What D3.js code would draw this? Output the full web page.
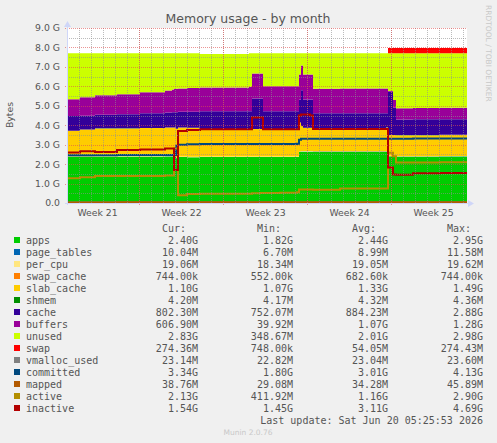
<!DOCTYPE html>
<html>
<head>
<meta charset="utf-8">
<script src="https://cdn.jsdelivr.net/npm/d3@7"></script>
<style>
  body { margin: 0; background: #f0f0f0; }
  svg { display: block; }
</style>
</head>
<body>
<svg id="chart" width="497" height="443"></svg>
<script>
// Munin "memory" graph, month view (2 hours per pixel, 33.3 days).
// Values are in G (1024^3 bytes).

const START = Date.UTC(2026, 4, 19); // left edge of the graph
const SPAN_HOURS = 800;

// hours since START at which the samples below change
const hours = [0, 26, 56, 100, 146, 196, 210, 214, 218, 222, 240, 266, 364, 370, 386, 392,
  426, 460, 464, 468, 472, 486, 492, 546, 638, 642, 648, 652, 658, 692, 746, 800];

const apps = [2.38, 2.38, 2.39, 2.39, 2.39, 2.39, 2.39, 2.39, 2.30, 2.36, 2.35, 2.36, 2.36, 2.36, 2.36, 2.36,
  2.36, 2.36, 2.62, 2.64, 2.64, 2.64, 2.64, 2.64, 2.64, 2.40, 2.39, 2.39, 2.38, 2.38, 2.39, 2.40];
const pageTables = [0.0066, 0.0068, 0.0072, 0.0075, 0.0078, 0.0080, 0.0082, 0.0085, 0.0090, 0.0092, 0.0092, 0.0093,
  0.0094, 0.0105, 0.0105, 0.0094, 0.0094, 0.0095, 0.0110, 0.0113, 0.0110, 0.0108, 0.0090, 0.0090, 0.0091, 0.0100,
  0.0100, 0.0098, 0.0098, 0.0098, 0.0098, 0.0098];
const perCpu = [0.0179, 0.0180, 0.0181, 0.0182, 0.0183, 0.0184, 0.0185, 0.0185, 0.0186, 0.0186, 0.0186, 0.0186,
  0.0187, 0.0190, 0.0190, 0.0187, 0.0187, 0.0187, 0.0191, 0.0192, 0.0191, 0.0190, 0.0186, 0.0186, 0.0186, 0.0186,
  0.0186, 0.0186, 0.0186, 0.0186, 0.0186, 0.0186];
const swapCache = [0.00053, 0.00053, 0.00055, 0.00058, 0.00060, 0.00062, 0.00064, 0.00064, 0.00065, 0.00065,
  0.00066, 0.00066, 0.00066, 0.00066, 0.00066, 0.00066, 0.00067, 0.00067, 0.00067, 0.00067, 0.00068, 0.00068,
  0.00068, 0.00068, 0.00069, 0.00071, 0.00071, 0.00071, 0.00071, 0.00071, 0.00071, 0.00071];
const slabCache = [1.31, 1.37, 1.42, 1.42, 1.44, 1.46, 1.46, 1.46, 1.49, 1.49, 1.49, 1.41, 1.41, 1.41, 1.41, 1.41,
  1.41, 1.43, 1.49, 1.28, 1.19, 1.19, 1.19, 1.19, 1.22, 1.07, 1.08, 1.08, 1.08, 1.08, 1.09, 1.10];
const shmem = [0.0042, 0.0042, 0.0042, 0.0042, 0.0042, 0.0042, 0.0042, 0.0042, 0.0041, 0.0041, 0.0041, 0.0041,
  0.0042, 0.0042, 0.0042, 0.0042, 0.0042, 0.0042, 0.0042, 0.0043, 0.0042, 0.0042, 0.0042, 0.0042, 0.0042, 0.0041,
  0.0041, 0.0041, 0.0041, 0.0041, 0.0041, 0.0041];
const cache = [0.75, 0.71, 0.70, 0.73, 0.75, 0.77, 0.79, 0.79, 0.85, 0.81, 0.82, 0.91, 0.92, 1.57, 1.57, 0.92,
  0.92, 0.90, 1.18, 1.84, 1.46, 1.46, 0.75, 0.75, 0.72, 2.22, 2.22, 1.39, 0.80, 0.81, 0.80, 0.80];
const buffers = [0.87, 0.95, 1.00, 1.02, 1.08, 1.14, 1.17, 1.19, 1.20, 1.20, 1.22, 1.23, 1.25, 1.28, 1.28, 1.28,
  1.28, 1.28, 1.28, 1.28, 1.28, 1.28, 1.26, 1.28, 1.28, 0.04, 0.04, 0.40, 0.58, 0.58, 0.58, 0.59];
const unused = [2.36, 2.26, 2.16, 2.11, 2.01, 1.91, 1.86, 1.84, 1.83, 1.81, 1.79, 1.72, 1.73, 1.05, 1.05, 1.70,
  1.70, 1.70, 1.10, 0.63, 1.10, 1.10, 1.83, 1.81, 1.81, 1.94, 1.94, 2.41, 2.83, 2.82, 2.81, 2.78];
const swap = [0.0007, 0.0007, 0.0007, 0.0007, 0.0007, 0.0007, 0.0007, 0.0007, 0.0007, 0.0007, 0.0007, 0.0007,
  0.0007, 0.0007, 0.0007, 0.0007, 0.0007, 0.0007, 0.0007, 0.0007, 0.0007, 0.0007, 0.0007, 0.0007, 0.0007, 0.268,
  0.268, 0.268, 0.268, 0.268, 0.268, 0.268];
const vmallocUsed = [0.0223, 0.0223, 0.0224, 0.0224, 0.0224, 0.0225, 0.0225, 0.0225, 0.0226, 0.0226, 0.0226,
  0.0226, 0.0226, 0.0227, 0.0227, 0.0226, 0.0226, 0.0226, 0.0228, 0.0230, 0.0228, 0.0228, 0.0225, 0.0225, 0.0225,
  0.0226, 0.0226, 0.0226, 0.0226, 0.0226, 0.0226, 0.0226];
const committed = [2.45, 2.46, 2.46, 2.47, 2.47, 2.47, 2.47, 2.47, 2.95, 3.00, 3.02, 3.03, 3.04, 3.04, 3.04, 3.04,
  3.04, 3.05, 3.25, 3.30, 3.30, 3.30, 3.30, 3.30, 3.30, 3.31, 3.31, 3.31, 3.31, 3.32, 3.32, 3.33];
const mapped = [0.030, 0.031, 0.032, 0.033, 0.034, 0.035, 0.035, 0.036, 0.036, 0.034, 0.034, 0.034, 0.034, 0.035,
  0.035, 0.034, 0.034, 0.034, 0.036, 0.040, 0.045, 0.040, 0.034, 0.034, 0.034, 0.040, 0.040, 0.038, 0.038, 0.038,
  0.038, 0.038];
const active = [1.27, 1.32, 1.39, 1.39, 1.39, 1.42, 1.42, 2.80, 2.80, 0.40, 0.46, 0.47, 0.48, 0.50, 0.52, 0.52,
  0.53, 0.55, 0.70, 0.70, 0.70, 0.70, 0.68, 0.74, 0.75, 2.59, 2.59, 2.40, 2.08, 2.08, 2.10, 2.12];
const inactive = [2.60, 2.66, 2.62, 2.72, 2.75, 2.80, 2.80, 1.70, 1.70, 3.70, 3.76, 3.79, 3.79, 4.40, 4.40, 3.79,
  3.79, 3.79, 4.50, 4.55, 4.55, 4.50, 3.80, 3.80, 3.80, 1.82, 1.82, 1.46, 1.45, 1.53, 1.54, 1.54];

const seriesKeys = ['apps', 'page_tables', 'per_cpu', 'swap_cache', 'slab_cache', 'shmem', 'cache', 'buffers',
  'unused', 'swap', 'vmalloc_used', 'committed', 'mapped', 'active', 'inactive'];
const seriesValues = [apps, pageTables, perCpu, swapCache, slabCache, shmem, cache, buffers, unused, swap,
  vmallocUsed, committed, mapped, active, inactive];
const seriesColours = ['#00cc00', '#0066b3', '#ffe680', '#ff8000', '#ffcc00', '#008f00', '#330099', '#990099',
  '#ccff00', '#ff0000', '#808080', '#00487d', '#b35a00', '#b38f00', '#b30000'];
const stackedCount = 10; // first ten are AREA/STACK, the rest LINE2

const legendCur = ['2.40G', '10.04M', '19.06M', '744.00k', '1.10G', '4.20M', '802.30M', '606.90M', '2.83G',
  '274.36M', '23.14M', '3.34G', '38.76M', '2.13G', '1.54G'];
const legendMin = ['1.82G', '6.70M', '18.34M', '552.00k', '1.07G', '4.17M', '752.07M', '39.92M', '348.67M',
  '748.00k', '22.82M', '1.80G', '29.08M', '411.92M', '1.45G'];
const legendAvg = ['2.44G', '8.99M', '19.05M', '682.60k', '1.33G', '4.32M', '884.23M', '1.07G', '2.01G',
  '54.05M', '23.04M', '3.01G', '34.28M', '1.16G', '3.11G'];
const legendMax = ['2.95G', '11.58M', '19.62M', '744.00k', '1.49G', '4.36M', '2.88G', '1.28G', '2.98G',
  '274.43M', '23.60M', '4.13G', '45.89M', '2.90G', '4.69G'];

const yTickValues = [0, 1, 2, 3, 4, 5, 6, 7, 8, 9];
const yTickLabels = ['0.0', '1.0 G', '2.0 G', '3.0 G', '4.0 G', '5.0 G', '6.0 G', '7.0 G', '8.0 G', '9.0 G'];

const COLOURS = {
  back: '#f0f0f0',
  canvas: '#ffffff',
  font: '#555555',
  axis: '#cfd6f8',
  grid: 'rgba(143,143,143,0.6)',
  mgrid: 'rgba(222,79,79,0.6)',
  faint: '#c8c8c8'
};

const plot = { left: 67, right: 467, top: 28, bottom: 203 };
const SANS = "'DejaVu Sans', sans-serif";
const MONO = "'DejaVu Sans Mono', monospace";

const svg = d3.select('#chart');
svg.append('rect').attr('width', 497).attr('height', 443).attr('fill', COLOURS.back);

const end = START + SPAN_HOURS * 3600e3;
const x = d3.scaleUtc().domain([new Date(START), new Date(end)]).range([plot.left, plot.right]);
const y = d3.scaleLinear().domain([0, 9]).range([plot.bottom, plot.top]);

const rows = hours.map((h, i) => {
  const row = { date: new Date(START + h * 3600e3) };
  seriesKeys.forEach((k, s) => { row[k] = seriesValues[s][i]; });
  return row;
});

svg.append('rect')
  .attr('x', plot.left).attr('y', plot.top)
  .attr('width', plot.right - plot.left).attr('height', plot.bottom - plot.top)
  .attr('fill', COLOURS.canvas);

svg.append('clipPath').attr('id', 'canvas-clip')
  .append('rect')
  .attr('x', plot.left).attr('y', plot.top - 10)
  .attr('width', plot.right - plot.left).attr('height', plot.bottom - plot.top + 10);

const graph = svg.append('g').attr('clip-path', 'url(#canvas-clip)');

const stacked = d3.stack().keys(seriesKeys.slice(0, stackedCount))(rows);
const area = d3.area()
  .curve(d3.curveStepAfter)
  .x((d) => x(d.data.date))
  .y0((d) => y(d[0]))
  .y1((d) => y(d[1]));

graph.selectAll('path.area')
  .data(stacked)
  .join('path')
  .attr('class', 'area')
  .attr('fill', (d) => seriesColours[d.index])
  .attr('d', area);

// grid on top of the areas, dotted like rrdtool
const grid = svg.append('g');
const dotted = (g, colour) => {
  g.select('.domain').remove();
  g.selectAll('line').attr('stroke', colour).attr('stroke-dasharray', '1,1').attr('shape-rendering', 'crispEdges');
};
grid.append('g')
  .attr('transform', `translate(0,${plot.top})`)
  .call(d3.axisBottom(x).ticks(d3.utcDay.every(1)).tickSize(plot.bottom - plot.top).tickFormat(''))
  .call((g) => dotted(g, COLOURS.grid));
grid.append('g')
  .attr('transform', `translate(${plot.left},0)`)
  .call(d3.axisRight(y).tickValues(d3.range(0.5, 9, 1)).tickSize(plot.right - plot.left).tickFormat(''))
  .call((g) => dotted(g, COLOURS.grid));
grid.append('g')
  .attr('transform', `translate(0,${plot.top})`)
  .call(d3.axisBottom(x).ticks(d3.utcMonday.every(1)).tickSize(plot.bottom - plot.top + 3).tickFormat(''))
  .call((g) => dotted(g, COLOURS.mgrid));
grid.append('g')
  .attr('transform', `translate(${plot.left - 2},0)`)
  .call(d3.axisRight(y).tickValues(yTickValues.slice(1)).tickSize(plot.right - plot.left + 2).tickFormat(''))
  .call((g) => dotted(g, COLOURS.mgrid));

// lines
const lineKeys = seriesKeys.slice(stackedCount);
lineKeys.forEach((key, i) => {
  graph.append('path')
    .datum(rows)
    .attr('fill', 'none')
    .attr('stroke', seriesColours[stackedCount + i])
    .attr('stroke-width', 2)
    .attr('d', d3.line().curve(d3.curveStepAfter).x((d) => x(d.date)).y((d) => y(d[key])));
});

// axes with arrows
svg.append('line')
  .attr('x1', plot.left - 2).attr('x2', plot.right + 2)
  .attr('y1', plot.bottom + 0.5).attr('y2', plot.bottom + 0.5)
  .attr('stroke', COLOURS.axis);
svg.append('line')
  .attr('x1', plot.left + 0.5).attr('x2', plot.left + 0.5)
  .attr('y1', plot.bottom + 2).attr('y2', plot.top - 3)
  .attr('stroke', COLOURS.axis);
svg.append('path')
  .attr('d', `M${plot.right + 1},${plot.bottom - 3}L${plot.right + 7},${plot.bottom + 0.5}L${plot.right + 1},${plot.bottom + 4}Z`)
  .attr('fill', COLOURS.axis);
svg.append('path')
  .attr('d', `M${plot.left - 3},${plot.top - 1}L${plot.left + 0.5},${plot.top - 7}L${plot.left + 4},${plot.top - 1}Z`)
  .attr('fill', COLOURS.axis);

const yAxis = svg.append('g')
  .attr('transform', `translate(${plot.left},0)`)
  .call(d3.axisLeft(y).tickValues(yTickValues).tickFormat((d, i) => yTickLabels[i]).tickSize(0).tickPadding(7))
  .call((g) => g.select('.domain').remove());
yAxis.selectAll('text').attr('fill', COLOURS.font).style('font', `9.3px ${SANS}`);

const weekCentres = d3.utcMonday.range(d3.utcMonday.floor(new Date(START)), new Date(end))
  .map((d) => new Date(+d + 3.5 * 864e5))
  .filter((d) => d >= START && d <= end);
const xAxis = svg.append('g')
  .attr('transform', `translate(0,${plot.bottom})`)
  .call(d3.axisBottom(x).tickValues(weekCentres).tickSize(0).tickPadding(6)
    .tickFormat((d) => 'Week ' + d3.utcFormat('%V')(new Date(+d - 3.5 * 864e5))))
  .call((g) => g.select('.domain').remove());
xAxis.selectAll('text').attr('fill', COLOURS.font).style('font', `9.3px ${SANS}`);

// titles
svg.append('text')
  .attr('x', 248).attr('y', 23)
  .attr('text-anchor', 'middle')
  .attr('fill', COLOURS.font)
  .style('font', `12.5px ${SANS}`)
  .text('Memory usage - by month');

svg.append('text')
  .attr('transform', 'translate(13,115) rotate(-90)')
  .attr('text-anchor', 'middle')
  .attr('fill', COLOURS.font)
  .style('font', `9.3px ${SANS}`)
  .text('Bytes');

svg.append('text')
  .attr('transform', 'translate(486,5) rotate(90)')
  .attr('text-anchor', 'start')
  .attr('fill', COLOURS.faint)
  .style('font', `7.5px ${SANS}`)
  .text('RRDTOOL / TOBI OETIKER');

// legend
const legend = svg.append('g').style('font', `10px ${MONO}`).attr('fill', COLOURS.font);
const colRight = [198, 293, 388, 483];
['Cur:', 'Min:', 'Avg:', 'Max:'].forEach((h, i) => {
  legend.append('text').attr('x', colRight[i] - 12).attr('y', 231.5).attr('text-anchor', 'end').text(h);
});

const legendRows = legend.selectAll('g.row')
  .data(seriesKeys)
  .join('g')
  .attr('class', 'row')
  .attr('transform', (d, i) => `translate(0,${243.5 + i * 12})`);

legendRows.append('rect')
  .attr('x', 14).attr('y', -6.5).attr('width', 6).attr('height', 6)
  .attr('fill', (d, i) => seriesColours[i]);
legendRows.append('text').attr('x', 26).text((d) => d);
[legendCur, legendMin, legendAvg, legendMax].forEach((col, c) => {
  legendRows.append('text')
    .attr('x', colRight[c])
    .attr('text-anchor', 'end')
    .text((d, i) => col[i]);
});

legend.append('text')
  .attr('x', 483).attr('y', 243.5 + 15 * 12)
  .attr('text-anchor', 'end')
  .text('Last update: Sat Jun 20 05:25:53 2026');

svg.append('text')
  .attr('x', 248).attr('y', 434.5)
  .attr('text-anchor', 'middle')
  .attr('fill', COLOURS.faint)
  .style('font', `7.5px ${SANS}`)
  .text('Munin 2.0.76');
</script>
</body>
</html>
